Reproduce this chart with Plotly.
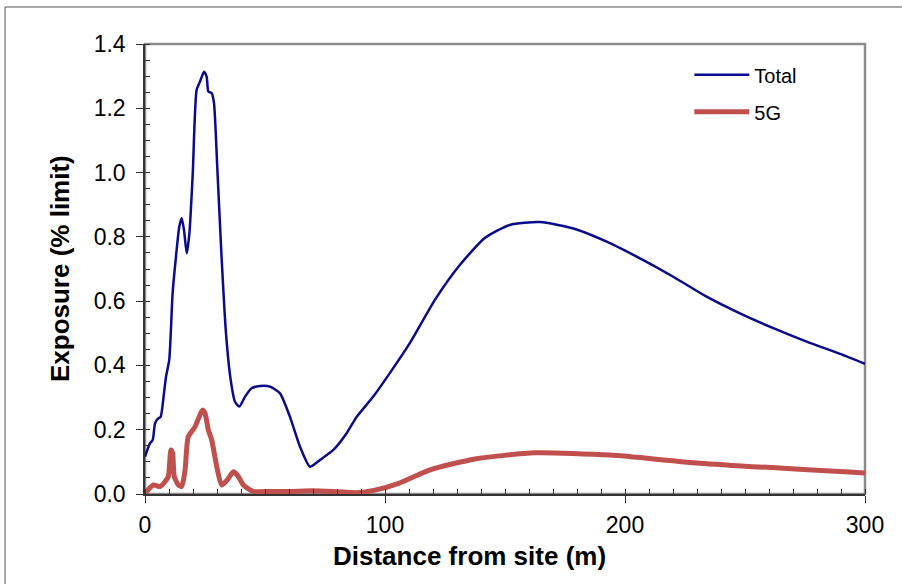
import plotly.graph_objects as go

# Total exposure (blue)
total_x = [0, 2.1, 3.2, 4.2, 5.5, 6.5, 7.9, 8.75, 10.1, 11.5, 12.9, 14.3, 15.3, 16.25, 17.4, 18.5,
           19.9, 21.5, 22.9, 24.6, 25.7, 26.4, 27.8, 28.75, 30.1, 31.9, 33.75, 35.7, 37.5, 39.3,
           41.7, 44.4, 47.9, 52.1, 56.25, 60.4, 64.6, 68.75, 72.9, 78.5, 84, 88.2, 95.1, 102,
           110.4, 120.8, 131.25, 141.7, 152, 164.6, 178.5, 192.4, 206.25, 220.1, 234, 247.9,
           261.8, 275.7, 289.6, 300]
total_y = [0.116, 0.158, 0.168, 0.22, 0.235, 0.24, 0.313, 0.365, 0.417, 0.624, 0.738, 0.832, 0.858,
           0.821, 0.749, 0.811, 0.998, 1.257, 1.283, 1.314, 1.298, 1.252, 1.247, 1.216, 1.018,
           0.738, 0.5, 0.355, 0.287, 0.272, 0.303, 0.329, 0.336, 0.334, 0.313, 0.24, 0.147, 0.085,
           0.106, 0.137, 0.189, 0.24, 0.303, 0.376, 0.47, 0.604, 0.713, 0.797, 0.837, 0.846,
           0.826, 0.785, 0.733, 0.676, 0.614, 0.562, 0.516, 0.474, 0.436, 0.405]

# 5G exposure (red)
g5_x = [0, 3.5, 6.25, 8.3, 9.7, 10.8, 11.5, 12.2, 13.9, 15.3, 16.7, 18, 20.8, 22.9, 23.9, 25,
        26.4, 27.8, 29.9, 31.9, 34.3, 36.8, 38.5, 41, 45.1, 52, 60, 70, 80, 88, 95.8, 106,
        118.75, 137.5, 162.5, 193.75, 231, 300]
g5_y = [0.002, 0.028, 0.023, 0.038, 0.054, 0.137, 0.127, 0.054, 0.028, 0.023, 0.075, 0.178,
        0.209, 0.246, 0.261, 0.251, 0.199, 0.168, 0.085, 0.028, 0.044, 0.069, 0.059, 0.028,
        0.008, 0.008, 0.008, 0.01, 0.007, 0.004, 0.012, 0.034, 0.075, 0.109, 0.128, 0.121,
        0.096, 0.065]

x_ticks = [0, 100, 200, 300]
y_ticks = [0.0, 0.2, 0.4, 0.6, 0.8, 1.0, 1.2, 1.4]

FONT = "Liberation Sans, Arial, sans-serif"

fig = go.Figure()
fig.add_trace(go.Scatter(x=total_x, y=total_y, mode="lines", name="Total", legendgroup="a",
                         line=dict(color="#0A0A8C", width=2.5, shape="spline", smoothing=0.6)))
fig.add_trace(go.Scatter(x=g5_x, y=g5_y, mode="lines", name="5G", legendgroup="b",
                         line=dict(color="#C0504D", width=5, shape="spline", smoothing=0.6)))

fig.update_layout(
    width=902, height=584,
    margin=dict(l=145, r=37, t=44, b=90),
    paper_bgcolor="white", plot_bgcolor="white",
    font=dict(family=FONT, color="black"),
    showlegend=True,
    legend=dict(x=0.756, y=0.975, xanchor="left", yanchor="top",
                font=dict(size=20, family=FONT), bgcolor="rgba(0,0,0,0)",
                itemwidth=55, tracegroupgap=8),
    xaxis=dict(range=[0, 300], tickvals=x_ticks, ticks="outside", ticklen=7, tickcolor="#333",
               showline=True, linecolor="#333", linewidth=1.5, showgrid=False, zeroline=False,
               tickfont=dict(size=23, family=FONT), ticklabelstandoff=3,
               minor=dict(dtick=10, ticks="inside", ticklen=5, tickcolor="#333")),
    yaxis=dict(range=[0, 1.4], tickvals=y_ticks, tickformat=".1f", ticks="outside", ticklen=7,
               tickcolor="#333", showline=True, linecolor="#333", linewidth=1.5, showgrid=False,
               zeroline=False, tickfont=dict(size=23, family=FONT), ticklabelstandoff=6,
               minor=dict(dtick=0.05, ticks="inside", ticklen=5, tickcolor="#333")),
    annotations=[
        dict(text="<b>Distance from site (m)</b>", xref="paper", yref="paper",
             x=0.451, y=-0.138, xanchor="center", yanchor="middle", showarrow=False,
             font=dict(size=26, family=FONT, color="black")),
        dict(text="<b>Exposure (% limit)</b>", xref="paper", yref="paper",
             x=-0.118, y=0.5, xanchor="center", yanchor="middle", showarrow=False,
             textangle=-90, font=dict(size=26, family=FONT, color="black")),
    ],
    shapes=[
        dict(type="rect", xref="paper", yref="paper", x0=0, x1=1, y0=0, y1=1,
             line=dict(color="#8C8C8C", width=2.5), layer="below"),
        dict(type="rect", xref="paper", yref="paper", x0=-0.1944, x1=1.07, y0=-0.24, y1=1.0822,
             line=dict(color="#555", width=1), layer="below"),
    ],
)

fig.write_html("out.html")
